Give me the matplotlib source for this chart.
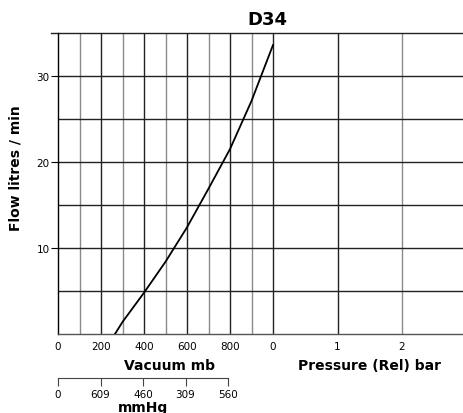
import matplotlib
matplotlib.use("Agg")
import matplotlib.pyplot as plt

# data (x in vacuum mb, y flow litres/min)
vacuum_mb = [265, 300, 400, 500, 600, 700, 800, 900, 1000]
flow_lpm = [0.0, 1.4, 4.8, 8.4, 12.4, 16.9, 21.5, 27.1, 33.6]

vac_ticks = [0, 200, 400, 600, 800]
vac_labels = ["0", "200", "400", "600", "800"]
press_ticks = [0, 1, 2]
press_labels = ["0", "1", "2"]
mmhg_labels = ["0", "609", "460", "309", "560"]
y_ticks = [10, 20, 30]

PRESS_SCALE = 300.0  # mb-units per bar on the shared axis
PRESS_ORIGIN = 1000.0

W, H = 463, 414
fig = plt.figure(figsize=(W / 100, H / 100), dpi=100)
plt.rcParams['font.family'] = ['DejaVu Sans']

ax = fig.add_axes([58 / W, (H - 335) / H, 1 - 58 / W, (335 - 34) / H])
ax.set_xlim(0, (W - 58) / 21.5 * 100)
ax.set_ylim(0, 35)

for s in ["top", "right"]:
    ax.spines[s].set_visible(False)
ax.spines["left"].set_linewidth(1.0)
ax.spines["bottom"].set_linewidth(1.0)
ax.spines["bottom"].set_color("#555555")

# vertical grid
for v in range(100, 1000, 100):
    col = "#222222" if v % 200 == 0 else "#8a8a8a"
    ax.axvline(v, color=col, lw=1.0, zorder=1)
for p in press_ticks:
    xv = PRESS_ORIGIN + p * PRESS_SCALE
    col = "#222222" if p in (0, 1) else "#8a8a8a"
    ax.axvline(xv, color=col, lw=1.0, zorder=1)
# horizontal grid
for yv in range(5, 35, 5):
    ax.axhline(yv, color="#222222", lw=1.0, zorder=1)
# top line extending slightly left
ax.plot([-0.018, 1.0], [1, 1], transform=ax.transAxes, color="#222222",
        lw=1.0, clip_on=False)

ax.plot(vacuum_mb, flow_lpm, color="black", lw=1.3, zorder=3)

ax.set_yticks(y_ticks)
ax.set_yticklabels([str(t) for t in y_ticks], fontsize=7.5)
ax.tick_params(axis="y", length=5, width=0.8, pad=1)

xt = vac_ticks + [PRESS_ORIGIN + p * PRESS_SCALE for p in press_ticks]
xl = vac_labels + press_labels
ax.set_xticks(xt)
ax.set_xticklabels(xl, fontsize=7.5)
ax.tick_params(axis="x", length=0, pad=5)

ax.text((170 - 58) / 21.5 * 100, -2.8, "Vacuum mb", fontsize=10,
        fontweight="bold", ha="center", va="top")
ax.text((370 - 58) / 21.5 * 100, -2.8, "Pressure (Rel) bar", fontsize=10,
        fontweight="bold", ha="center", va="top")
ax.set_ylabel("Flow litres / min", fontsize=10, fontweight="bold")
ax.yaxis.set_label_coords((23 - 58) / (W - 58), 0.555)

fig.text(267 / W, 1 - 20 / H, "D34", fontsize=13, fontweight="bold",
         ha="center", va="center")

# mmHg scale
ax2 = fig.add_axes([58 / W, (H - 379) / H, 170 / W, 0.001])
ax2.set_xlim(0, 4)
ax2.set_ylim(0, 1)
for s in ["top", "right", "left"]:
    ax2.spines[s].set_visible(False)
ax2.spines["bottom"].set_position(("axes", 1.0))
ax2.spines["bottom"].set_color("#444444")
ax2.set_yticks([])
ax2.set_xticks(range(5))
ax2.set_xticklabels(mmhg_labels, fontsize=7.5)
ax2.tick_params(axis="x", direction="out", length=6, width=0.8, pad=2, color="#444444")
fig.text(143 / W, 1 - 408 / H, "mmHg", fontsize=10, fontweight="bold",
         ha="center", va="center")

fig.savefig("out.png", dpi=100)
